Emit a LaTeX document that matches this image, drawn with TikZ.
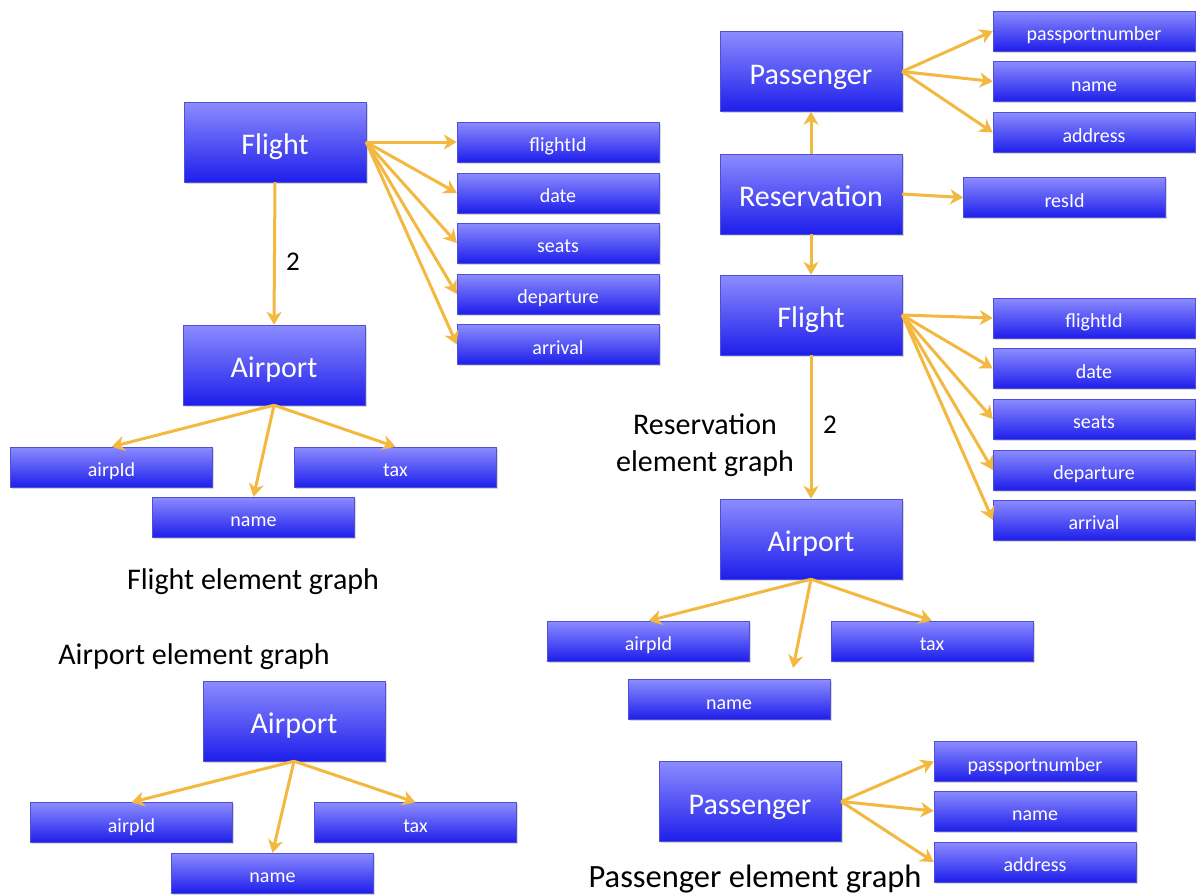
\documentclass[tikz,border=0pt]{standalone}
\usepackage{fontspec}
\setmainfont{Carlito}
\usetikzlibrary{arrows.meta,shadows}
\definecolor{boxtop}{RGB}{140,140,255}
\definecolor{boxbot}{RGB}{30,30,235}
\definecolor{boxedge}{RGB}{80,80,215}
\definecolor{arr}{RGB}{242,184,64}
\tikzset{
  ent/.style={draw=boxedge, line width=0.4pt, top color=boxtop, bottom color=boxbot,
    minimum width=182pt, minimum height=80pt, inner sep=0pt, text=white,
    font=\fontsize{30}{32}\selectfont, text height=25pt, text depth=0pt,
    drop shadow={opacity=0.3, shadow xshift=1.5pt, shadow yshift=-1.5pt}},
  attr/.style={draw=boxedge, line width=0.4pt, top color=boxtop, bottom color=boxbot,
    minimum width=202pt, minimum height=40pt, inner sep=0pt, text=white,
    font=\fontsize{20}{22}\selectfont, text height=19pt, text depth=0pt,
    drop shadow={opacity=0.3, shadow xshift=1.5pt, shadow yshift=-1.5pt}},
  link/.style={draw=arr, line width=3pt, -{Stealth[length=13pt,width=15pt,inset=4pt]}},
  capt/.style={text=black, font=\fontsize{30}{37}\selectfont, align=center},
  num/.style={text=black, font=\fontsize{27}{29}\selectfont}
}
\begin{document}
\begin{tikzpicture}[x=1pt,y=-1pt]
\useasboundingbox (0,0) rectangle (1196,895);
% ---------- Flight element graph (left) ----------
\node[ent] (F1) at (275,142) {Flight};
\node[attr] (F1a) at (558,142) {flightId};
\node[attr] (F1b) at (558,193) {date};
\node[attr] (F1c) at (558,243) {seats};
\node[attr] (F1d) at (558,294) {departure};
\node[attr] (F1e) at (558,344.5) {arrival};
\node[ent] (A1) at (274,365) {Airport};
\node[attr] (A1a) at (111.5,467) {airpId};
\node[attr] (A1t) at (395.5,467) {tax};
\node[attr] (A1n) at (253.5,517) {name};
\node[num] (n1) at (293,262) {2};
\node[capt] (c1) at (253,582) {Flight element graph};
\foreach \t in {F1a,F1b,F1c,F1d,F1e} \draw[link] (F1.east) -- (\t.west);
\draw[link] (F1.south) -- (A1.north);
\draw[link] (A1.south) -- (A1a.north);
\draw[link] (A1.south) -- (A1n.north);
\draw[link] (A1.south) -- (A1t.north);
% ---------- Airport element graph ----------
\node[capt] (c2) at (194,657) {Airport element graph};
\node[ent] (A2) at (294,721) {Airport};
\node[attr] (A2a) at (131.5,822.5) {airpId};
\node[attr] (A2t) at (415.5,822.5) {tax};
\node[attr] (A2n) at (272.5,873) {name};
\draw[link] (A2.south) -- (A2a.north);
\draw[link] (A2.south) -- (A2n.north);
\draw[link] (A2.south) -- (A2t.north);
% ---------- Reservation element graph ----------
\node[ent] (P1) at (811,71.5) {Passenger};
\node[attr] (P1a) at (1094,31) {passportnumber};
\node[attr] (P1b) at (1094,81.5) {name};
\node[attr] (P1c) at (1094,132.5) {address};
\node[ent] (R) at (811,194) {Reservation};
\node[attr] (Ra) at (1064.5,197.5) {resId};
\node[ent] (F2) at (811,315) {Flight};
\node[attr] (F2a) at (1094,318) {flightId};
\node[attr] (F2b) at (1094,368.5) {date};
\node[attr] (F2c) at (1094,419) {seats};
\node[attr] (F2d) at (1094,470) {departure};
\node[attr] (F2e) at (1094,520) {arrival};
\node[ent] (A3) at (811,539) {Airport};
\node[attr] (A3a) at (648.5,641) {airpId};
\node[attr] (A3t) at (932,641) {tax};
\node[attr] (A3n) at (729,699.5) {name};
\coordinate (A3nend) at (793,668);
\node[num] (n2) at (830,425) {2};
\node[capt] (c3) at (705,445) {Reservation\\element graph};
\foreach \t in {P1a,P1b,P1c} \draw[link] (P1.east) -- (\t.west);
\draw[link] (R.north) -- (P1.south);
\draw[link] (R.east) -- (Ra.west);
\draw[link] (R.south) -- (F2.north);
\foreach \t in {F2a,F2b,F2c,F2d,F2e} \draw[link] (F2.east) -- (\t.west);
\draw[link] (F2.south) -- (A3.north);
\draw[link] (A3.south) -- (A3a.north);
\draw[link] (A3.south) -- (A3nend);
\draw[link] (A3.south) -- (A3t.north);
% ---------- Passenger element graph ----------
\node[ent] (P2) at (750,801.5) {Passenger};
\node[attr] (P2a) at (1035,761.5) {passportnumber};
\node[attr] (P2b) at (1035,811) {name};
\node[attr] (P2c) at (1035,862) {address};
\node[capt, font=\fontsize{32.5}{37}\selectfont] (c4) at (755,879) {Passenger element graph};
\foreach \t in {P2a,P2b,P2c} \draw[link] (P2.east) -- (\t.west);
\end{tikzpicture}
\end{document}
